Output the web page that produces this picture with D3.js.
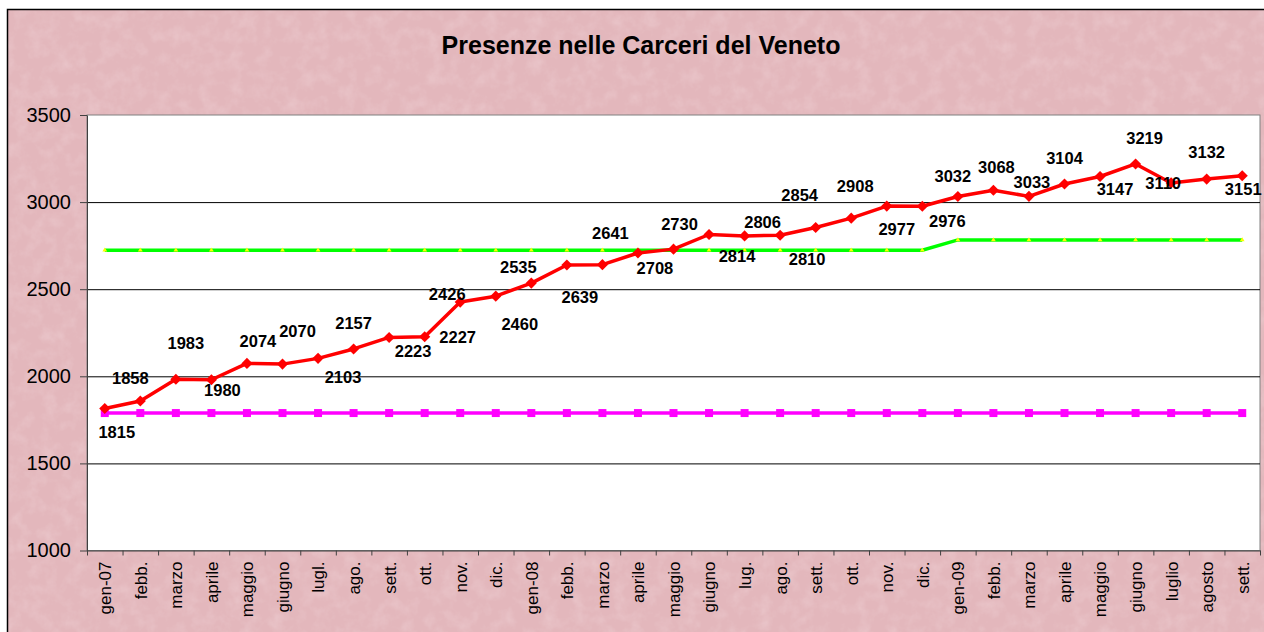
<!DOCTYPE html>
<html lang="it">
<head>
<meta charset="UTF-8" />
<script src="https://d3js.org/d3.v7.min.js"></script>
<title>Presenze nelle Carceri del Veneto</title>
<style>
  body { margin: 0; background: #fff; }
  svg { display: block; font-family: Arial, "Liberation Sans", sans-serif; }
</style>
</head>
<body>
<script type="text/javascript">

// mesi da gen-07 a sett. 2009
var mesi = ["gen-07","febb.","marzo","aprile","maggio","giugno","lugl.","ago.","sett.","ott.","nov.","dic.",
            "gen-08","febb.","marzo","aprile","maggio","giugno","lug.","ago.","sett.","ott.","nov.","dic.",
            "gen-09","febb.","marzo","aprile","maggio","giugno","luglio","agosto","sett."];

var presenze = [1815,1858,1983,1980,2074,2070,2103,2157,2223,2227,2426,2460,
                2535,2639,2641,2708,2730,2814,2806,2810,2854,2908,2977,2976,
                3032,3068,3033,3104,3147,3219,3110,3132,3151];

// capienza regolamentare (linea viola)
var regolamentare = [1789,1789,1789,1789,1789,1789,1789,1789,1789,1789,1789,1789,
                     1789,1789,1789,1789,1789,1789,1789,1789,1789,1789,1789,1789,
                     1789,1789,1789,1789,1789,1789,1789,1789,1789];

// capienza tollerabile (linea verde)
var tollerabile = [2724,2724,2724,2724,2724,2724,2724,2724,2724,2724,2724,2724,
                   2724,2724,2724,2724,2724,2724,2724,2724,2724,2724,2724,2724,
                   2783,2783,2783,2783,2783,2783,2783,2783,2783];

var yTicks = [1000,1500,2000,2500,3000,3500];

// spostamento delle etichette rispetto al punto (come nel grafico originale)
var labelShift = [[12,24],[-10,-23],[10,-36],[11,10],[11,-22],[15,-33],[25,19],[0,-26],[24,14],[33,0],
                  [-13,-8],[24,28],[-13,-16],[13,32],[8,-32],[17,15],[6,-25],[28,22],[18,-14],[27,24],
                  [-16,-32],[4,-32],[10,23],[25,15],[-5,-20],[3,-23],[3,-14],[0,-26],[15,13],[9,-26],
                  [-8,0],[0,-27],[1,13]];

var width = 1264, height = 632;
var pLeft = 87, pRight = 1260, pTop = 115, pBottom = 550.5;

var svg = d3.select("body").append("svg").attr("width", width).attr("height", height);

// sfondo rosa "carta"
var defs = svg.append("defs");
var filt = defs.append("filter").attr("id", "grana").attr("x", 0).attr("y", 0).attr("width", "100%").attr("height", "100%");
filt.append("feTurbulence").attr("type", "fractalNoise").attr("baseFrequency", "0.07").attr("numOctaves", 4).attr("seed", 7);
filt.append("feColorMatrix").attr("type", "matrix")
  .attr("values", "0 0 0 0 1  0 0 0 0 0.9  0 0 0 0 0.92  0 0 0 0.4 -0.17");
filt.append("feComposite").attr("in2", "SourceGraphic").attr("operator", "in");

svg.append("rect").attr("x", 7).attr("y", 9).attr("width", width).attr("height", height)
  .attr("fill", "#e3b7bc");
svg.append("rect").attr("x", 7).attr("y", 9).attr("width", width).attr("height", height)
  .attr("fill", "#e3b7bc").attr("filter", "url(#grana)");
svg.append("path").attr("d", "M7.5," + height + "V9.5H" + width)
  .attr("fill", "none").attr("stroke", "#000").attr("stroke-width", 1.5);

svg.append("text").attr("x", 641).attr("y", 54).attr("text-anchor", "middle")
  .attr("font-size", 25).attr("font-weight", "bold").text("Presenze nelle Carceri del Veneto");

// area del grafico
svg.append("rect").attr("x", pLeft).attr("y", pTop).attr("width", pRight - pLeft).attr("height", pBottom - pTop)
  .attr("fill", "#fff").attr("stroke", "#808080").attr("stroke-width", 1);

var x = d3.scalePoint().domain(d3.range(mesi.length)).range([pLeft, pRight]).padding(0.5);
var xb = d3.scaleLinear().domain([0, mesi.length]).range([pLeft, pRight]);
var y = d3.scaleLinear().domain([1000, 3500]).range([pBottom, pTop]);

// griglia
svg.append("g").attr("transform", "translate(" + pLeft + ",0)")
  .call(d3.axisLeft(y).tickValues(yTicks.slice(1, -1)).tickSize(-(pRight - pLeft)).tickFormat(""))
  .call(function(g){ g.select(".domain").remove(); g.selectAll("line").attr("stroke", "#000"); });

// asse y
svg.append("g").attr("transform", "translate(" + pLeft + ",0)")
  .call(d3.axisLeft(y).tickValues(yTicks).tickSize(7).tickSizeOuter(0).tickPadding(9).tickFormat(d3.format("d")))
  .call(function(g){
    g.select(".domain").attr("stroke", "#404040");
    g.selectAll("line").attr("stroke", "#404040");
    g.selectAll("text").attr("font-size", 20).attr("font-family", "Arial, 'Liberation Sans'").attr("fill", "#000");
  });

// asse x: tacche tra le categorie
svg.append("g").attr("transform", "translate(0," + pBottom + ")")
  .call(d3.axisBottom(xb).tickValues(d3.range(mesi.length + 1)).tickSize(5).tickSizeOuter(0).tickFormat(""))
  .call(function(g){ g.select(".domain").attr("stroke", "#404040"); g.selectAll("line").attr("stroke", "#404040"); });

// etichette mesi
svg.append("g").attr("transform", "translate(0," + pBottom + ")")
  .call(d3.axisBottom(x).tickSize(0).tickFormat(function(i){ return mesi[i]; }))
  .call(function(g){
    g.select(".domain").remove();
    g.selectAll("text")
      .attr("font-size", 17).attr("font-family", "Arial, 'Liberation Sans'").attr("fill", "#000")
      .attr("transform", "rotate(-90)")
      .attr("text-anchor", "end").attr("x", -11).attr("y", 0).attr("dy", "0.35em");
  });

var linea = function(vals){
  return d3.line().x(function(d, i){ return x(i); }).y(function(d){ return y(d); })(vals);
};

// linea viola
svg.append("path").attr("d", linea(regolamentare)).attr("fill", "none")
  .attr("stroke", "#ff00ff").attr("stroke-width", 3.5);
svg.append("g").selectAll("path").data(regolamentare).join("path")
  .attr("transform", function(d, i){ return "translate(" + x(i) + "," + y(d) + ")"; })
  .attr("d", d3.symbol(d3.symbolSquare, 64)).attr("fill", "#ff00ff");

// linea verde
svg.append("path").attr("d", linea(tollerabile)).attr("fill", "none")
  .attr("stroke", "#00ff00").attr("stroke-width", 3.5);
svg.append("g").selectAll("path").data(tollerabile).join("path")
  .attr("transform", function(d, i){ return "translate(" + x(i) + "," + y(d) + ")"; })
  .attr("d", d3.symbol(d3.symbolTriangle, 10)).attr("fill", "#ffff00");

// presenze
svg.append("path").attr("d", linea(presenze)).attr("fill", "none")
  .attr("stroke", "#ff0000").attr("stroke-width", 3.5).attr("stroke-linejoin", "round");
svg.append("g").selectAll("path").data(presenze).join("path")
  .attr("transform", function(d, i){ return "translate(" + x(i) + "," + y(d) + ") rotate(45)"; })
  .attr("d", d3.symbol(d3.symbolSquare, 62)).attr("fill", "#ff0000");

svg.append("g").selectAll("text").data(presenze).join("text")
  .attr("x", function(d, i){ return x(i) + labelShift[i][0]; })
  .attr("y", function(d, i){ return y(d) + labelShift[i][1]; })
  .attr("dy", "0.36em").attr("text-anchor", "middle")
  .attr("font-size", 16.5).attr("font-weight", "bold").attr("fill", "#000")
  .text(function(d){ return d; });

</script>
</body>
</html>
